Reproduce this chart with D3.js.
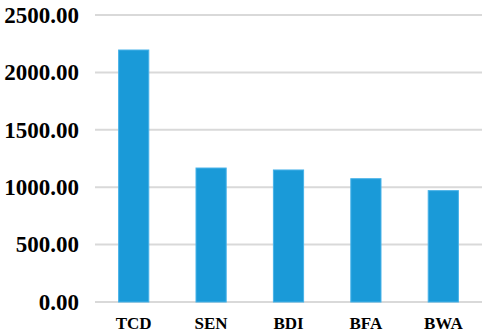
<!DOCTYPE html>
<html>
<head>
<meta charset="utf-8">
<script src="https://cdn.jsdelivr.net/npm/d3@7"></script>
<style>
  body { margin: 0; background: #fff; }
  svg text { font-family: "Liberation Serif", "Times New Roman", serif !important; font-weight: bold; }
</style>
</head>
<body>
<script>
// data
const countries = ['TCD', 'SEN', 'BDI', 'BFA', 'BWA']
const values = [2195, 1167, 1150, 1074, 970]
const yTicks = [0, 500, 1000, 1500, 2000, 2500]

const w = 484
const h = 333
const margin = { top: 15, right: 2, bottom: 31, left: 95 }
const serif = '"Liberation Serif", "Times New Roman", serif'

const svg = d3.select('body')
  .append('svg')
  .attr('width', w)
  .attr('height', h)

const x = d3.scaleBand()
  .domain(countries)
  .range([margin.left, w - margin.right])
  .paddingInner(0.61)
  .paddingOuter(0.305)

const y = d3.scaleLinear()
  .domain([0, 2500])
  .range([h - margin.bottom, margin.top])

// gridlines
svg.append('g')
  .selectAll('line')
  .data(yTicks)
  .enter()
  .append('line')
  .attr('x1', margin.left)
  .attr('x2', w - margin.right)
  .attr('y1', d => y(d))
  .attr('y2', d => y(d))
  .style('stroke', '#d9d9d9')
  .style('stroke-width', 2)

// y axis labels
const yAxis = d3.axisLeft(y)
  .tickValues(yTicks)
  .tickFormat(d3.format('.2f'))
  .tickSize(0)
  .tickPadding(16)

const yg = svg.append('g')
  .attr('transform', `translate(${margin.left},0)`)
  .call(yAxis)
yg.attr('font-family', serif).attr('font-size', 23)
yg.select('.domain').remove()
yg.selectAll('text')
  .style('font-family', serif)
  .style('font-weight', 'bold')
  .style('font-size', '23px')
  .style('fill', '#000')

// bars
svg.append('g')
  .selectAll('rect')
  .data(countries)
  .enter()
  .append('rect')
  .attr('x', d => x(d))
  .attr('y', (d, i) => y(values[i]))
  .attr('width', x.bandwidth())
  .attr('height', (d, i) => y(0) - y(values[i]))
  .style('fill', '#1a9ad8')
  .style('stroke', '#47b2e8')
  .style('stroke-width', 1)

// x axis labels
const xAxis = d3.axisBottom(x)
  .tickSize(0)
  .tickPadding(15)

const xg = svg.append('g')
  .attr('transform', `translate(0,${h - margin.bottom})`)
  .call(xAxis)
xg.attr('font-family', serif).attr('font-size', 17)
xg.select('.domain').remove()
xg.selectAll('text')
  .style('font-family', serif)
  .style('font-weight', 'bold')
  .style('font-size', '17px')
  .style('fill', '#000')
</script>
</body>
</html>
